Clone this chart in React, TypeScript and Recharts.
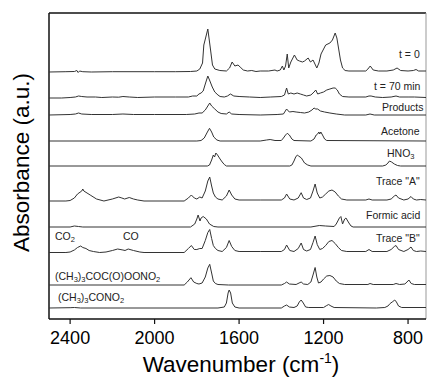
import React from 'react';
import { LineChart, Line, XAxis, YAxis, Customized } from 'recharts';

type Pt = [number, number];

// Wavenumber axis ticks
const xTicks = [2400, 2000, 1600, 1200, 800];

// Spectra: [wavenumber (cm-1), absorbance (a.u.)]
const specT0: Pt[] = [
  [2500, 0], [2420, 0.3], [2380, 0.5], [2368, 1.5], [2362, -0.5], [2355, 1], [2340, 0.3], [2300, 0], [2200, 0.3], [2000, 0.3],
  [1900, 0.3], [1830, 0.5], [1800, 1], [1786, 3], [1773, 9], [1767, 27], [1761, 32], [1748, 43], [1735, 22], [1726, 7],
  [1715, 3], [1691, 1.5], [1660, 1], [1645, 4], [1633, 10], [1620, 6], [1605, 7], [1595, 5], [1580, 2], [1560, 1],
  [1540, 1.5], [1520, 0.5], [1500, 1], [1460, 1], [1430, 2], [1420, 1], [1405, 2], [1395, 6], [1388, 2], [1380, 6],
  [1372, 18], [1365, 4], [1355, 10], [1338, 17], [1325, 12], [1314, 11], [1300, 10], [1290, 11], [1273, 14], [1262, 10],
  [1250, 12], [1243, 9], [1232, 4], [1222, 9], [1212, 18], [1190, 27], [1170, 29], [1158, 32], [1145, 39], [1137, 34],
  [1130, 25], [1120, 12], [1110, 4], [1098, 1.5], [1080, 1], [1000, 1], [990, 3], [979, 6], [965, 2], [940, 1],
  [900, 1], [870, 2], [852, 4], [835, 1.5], [800, 1], [775, 1.5], [762, 2.5], [750, 1], [715, 1],
];

const specT70: Pt[] = [
  [2500, 0], [2440, 0], [2400, 0.5], [2375, 1], [2360, 2], [2345, 1.5], [2320, 1], [2280, 1], [2250, 0.5], [2200, 1],
  [2170, 0.8], [2150, 1.5], [2120, 1], [2080, 0.5], [2000, 1], [1900, 1], [1840, 1], [1820, 2], [1800, 2], [1790, 4],
  [1780, 5], [1770, 7], [1760, 14], [1748, 22], [1740, 18], [1727, 11], [1715, 6], [1700, 3], [1690, 1.5], [1670, 1],
  [1655, 2], [1641, 4], [1625, 2], [1600, 1.5], [1550, 1], [1500, 0.5], [1450, 1], [1400, 1.5], [1385, 3], [1375, 10],
  [1367, 4], [1355, 5], [1340, 4], [1325, 5], [1310, 4], [1295, 3], [1280, 2], [1260, 3], [1245, 6], [1237, 8],
  [1228, 4], [1215, 5], [1200, 6], [1185, 8], [1170, 9], [1155, 10], [1145, 10], [1135, 8], [1125, 4], [1110, 1.5],
  [1080, 1], [1000, 1], [985, 2], [975, 2], [955, 1], [920, 0.5], [880, 1], [857, 2], [840, 1], [800, 1],
  [770, 1], [715, 0.5],
];

const specProducts: Pt[] = [
  [2500, 0], [2400, 0.5], [2375, 1], [2360, 2], [2345, 1], [2300, 0.5], [2200, 0.5], [2150, 1], [2100, 0.5], [2000, 0.5],
  [1850, 0.5], [1810, 1], [1790, 2], [1775, 2], [1760, 5], [1748, 9], [1739, 12], [1730, 9], [1715, 6], [1700, 3],
  [1685, 1.5], [1660, 1], [1647, 3], [1635, 1], [1600, 0.5], [1500, 0], [1420, 0.5], [1390, 1], [1375, 6], [1362, 3],
  [1345, 3.5], [1330, 3], [1310, 2.5], [1290, 2], [1270, 3], [1255, 5], [1245, 7], [1237, 6], [1228, 6], [1215, 4],
  [1195, 3], [1170, 2], [1140, 1], [1100, 0], [1000, 0], [980, 1], [960, 0], [715, 0],
];

const specAcetone: Pt[] = [
  [2500, 0], [1800, 0], [1780, 0.5], [1765, 3], [1750, 9], [1740, 12.7], [1730, 9], [1720, 4], [1705, 1], [1690, 0],
  [1500, 0], [1470, 1], [1453, 1.5], [1430, 0.5], [1400, 0.5], [1390, 3], [1380, 6], [1372, 7.7], [1362, 6], [1350, 2],
  [1340, 0.5], [1260, 0], [1245, 2], [1235, 6], [1228, 7], [1222, 9], [1218, 7], [1213, 9], [1205, 6], [1195, 2],
  [1185, 0.5], [715, 0],
];

const specHNO3: Pt[] = [
  [2500, 0], [1750, 0], [1740, 1], [1730, 6], [1722, 11], [1716, 9], [1710, 13], [1702, 11], [1690, 7], [1680, 4],
  [1670, 1.5], [1660, 0], [1360, 0], [1350, 1], [1340, 5], [1332, 9], [1324, 11], [1318, 10], [1305, 8], [1290, 3],
  [1275, 1], [1260, 0], [920, 0], [905, 1], [895, 3], [888, 5], [878, 4], [865, 2], [850, 0.5], [835, 0], [715, 0],
];

const specTraceA: Pt[] = [
  [2500, 0], [2420, 0], [2400, 0.5], [2380, 3], [2365, 7], [2345, 10], [2340, 12], [2335, 10], [2320, 8], [2305, 6],
  [2275, 2], [2240, 0], [2200, 2], [2170, 4], [2155, 3], [2142, 2], [2120, 3.5], [2100, 2], [2080, 1], [2050, 0],
  [1860, 0], [1840, 3], [1826, 6], [1812, 3], [1800, 2], [1786, 4], [1775, 3], [1760, 10], [1748, 20], [1739, 24],
  [1730, 15], [1722, 8], [1712, 4], [1700, 2], [1680, 1], [1660, 5], [1647, 11], [1635, 6], [1620, 2], [1600, 1],
  [1500, 1], [1400, 1], [1385, 3], [1375, 7], [1360, 2], [1340, 1], [1320, 3], [1306, 8.3], [1295, 3], [1280, 1.5],
  [1262, 3], [1250, 10], [1240, 17], [1230, 8], [1218, 3], [1205, 4], [1190, 7], [1175, 10], [1160, 11], [1145, 9],
  [1130, 5], [1115, 2], [1090, 1], [1000, 1], [985, 2], [970, 1], [900, 1], [880, 2], [865, 5], [857, 6],
  [845, 3], [820, 1], [800, 2], [786, 4.5], [775, 2], [760, 1], [740, 1.5], [715, 1],
];

const specFormic: Pt[] = [
  [2500, 0], [2400, 0], [2380, 1], [2360, 0.5], [2340, 0], [1830, 0], [1810, 3], [1800, 8], [1794, 12], [1785, 6],
  [1780, 9], [1770, 10.5], [1755, 8], [1740, 3], [1720, 0.5], [1700, 0], [1260, 0], [1220, 1.5], [1190, 1], [1150, 0.5],
  [1140, 3], [1125, 9], [1118, 10.5], [1110, 3], [1100, 8], [1094, 9], [1080, 4], [1070, 1], [1060, 0], [715, 0],
];

const specTraceB: Pt[] = [
  [2500, 0], [2420, 0], [2400, 0.5], [2380, 2.5], [2365, 5], [2350, 6.5], [2340, 5], [2325, 4], [2310, 2], [2290, 1],
  [2260, 0], [2230, 0.5], [2200, 2], [2175, 3.5], [2150, 2.5], [2140, 2], [2125, 3.5], [2100, 2], [2070, 0.5], [2050, 0],
  [1860, 0], [1840, 4], [1826, 7], [1812, 3], [1800, 3], [1786, 4], [1775, 4], [1760, 12], [1748, 20], [1739, 23],
  [1730, 14], [1722, 7], [1712, 4], [1700, 2], [1680, 1], [1660, 5], [1647, 12], [1635, 6], [1620, 2], [1600, 1],
  [1500, 1], [1400, 1], [1385, 3], [1375, 7.5], [1360, 2], [1340, 1], [1320, 4], [1306, 9.5], [1295, 3], [1280, 1.5],
  [1262, 3], [1250, 10], [1240, 16.5], [1230, 8], [1218, 3], [1205, 4], [1190, 7], [1175, 11], [1160, 12], [1145, 9],
  [1130, 5], [1115, 2], [1090, 1], [1000, 1], [985, 3], [970, 1], [900, 1], [880, 3], [865, 6], [857, 7],
  [845, 3], [820, 1], [800, 3], [786, 5.5], [775, 2], [760, 1], [740, 1.5], [715, 1],
];

const specPerester: Pt[] = [
  [2500, 0], [1860, 0], [1845, 3], [1828, 7.3], [1815, 3], [1800, 1.5], [1790, 1], [1775, 2], [1760, 8], [1748, 17],
  [1739, 20.7], [1730, 12], [1722, 4], [1712, 1.5], [1700, 0.5], [1650, 0], [1400, 0], [1385, 1.5], [1375, 3], [1362, 1],
  [1330, 0.5], [1316, 2], [1306, 3], [1295, 1], [1275, 0.5], [1260, 3], [1250, 10], [1240, 17.5], [1232, 8], [1224, 2],
  [1212, 3], [1200, 6], [1185, 9], [1170, 9.5], [1155, 8], [1140, 4], [1125, 1.5], [1100, 0.5], [990, 0.5], [980, 1.5],
  [965, 0.5], [870, 0.5], [857, 1.5], [840, 0.5], [815, 1], [805, 3], [796, 5], [785, 1.5], [770, 0.5], [715, 0.5],
];

const specNitrate: Pt[] = [
  [2500, 0], [2400, 0.3], [2380, 0.5], [2350, 0], [1700, 0], [1670, 1], [1660, 5], [1652, 15], [1647, 18], [1640, 15],
  [1632, 5], [1620, 1], [1600, 0], [1400, 0], [1385, 2], [1375, 3], [1362, 1], [1340, 0.5], [1325, 2], [1315, 6],
  [1306, 8], [1296, 5], [1285, 1], [1270, 0.5], [1200, 0.5], [1185, 2.5], [1176, 3.5], [1165, 2], [1150, 0.5], [950, 0],
  [910, 0.5], [895, 2], [885, 4.5], [875, 6], [863, 8], [855, 6], [845, 2], [830, 0.5], [715, 0.5],
];

// Vertical stacking offsets (a.u.) for each spectrum, top to bottom
const stackOffsets = [247, 221, 204, 178, 153, 118, 92, 66.5, 34, 11];
const spectra = [specT0, specT70, specProducts, specAcetone, specHNO3, specTraceA, specFormic, specTraceB, specPerester, specNitrate];

const W = 429;
const H = 377;
const PL = 49, PT = 13, PR = 426, PB = 319;
const FONT = '"Liberation Sans", Arial, Helvetica, sans-serif';

type Part = { t: string; sub?: boolean };
const labels: { parts: Part[]; x: number; y: number }[] = [
  { parts: [{ t: 't = 0' }], x: 399, y: 58 },
  { parts: [{ t: 't = 70 min' }], x: 374, y: 90 },
  { parts: [{ t: 'Products' }], x: 382, y: 111 },
  { parts: [{ t: 'Acetone' }], x: 381, y: 135 },
  { parts: [{ t: 'HNO' }, { t: '3', sub: true }], x: 387, y: 157 },
  { parts: [{ t: 'Trace "A"' }], x: 376, y: 185 },
  { parts: [{ t: 'Formic acid' }], x: 366, y: 219 },
  { parts: [{ t: 'Trace "B"' }], x: 376, y: 242 },
  { parts: [{ t: 'CO' }, { t: '2', sub: true }], x: 55, y: 240 },
  { parts: [{ t: 'CO' }], x: 123, y: 240 },
  { parts: [{ t: '(CH' }, { t: '3', sub: true }, { t: ')' }, { t: '3', sub: true }, { t: 'COC(O)OONO' }, { t: '2', sub: true }], x: 55, y: 280 },
  { parts: [{ t: '(CH' }, { t: '3', sub: true }, { t: ')' }, { t: '3', sub: true }, { t: 'CONO' }, { t: '2', sub: true }], x: 58, y: 301 },
];

function Overlay() {
  return (
    <g>
      <line x1={PL} y1={PT} x2={PR} y2={PT} stroke="#111" strokeWidth={1.5} />
      <line x1={PL} y1={PT} x2={PL} y2={PB} stroke="#111" strokeWidth={1.5} />
      <line x1={PR} y1={PT} x2={PR} y2={PB} stroke="#999" strokeWidth={1} />
      {labels.map((l, i) => (
        <text key={i} x={l.x} y={l.y} fontFamily={FONT} fontSize={10.5} fill="#222">
          {l.parts.map((p, j) => (
            <tspan key={j} fontSize={p.sub ? 7.5 : 10.5} baselineShift={p.sub ? '-2' : undefined} dy={0}>
              {p.t}
            </tspan>
          ))}
        </text>
      ))}
      <text x={241} y={371.5} textAnchor="middle" fontFamily={FONT} fontSize={22.5} fill="#000">
        Wavenumber (cm<tspan fontSize={14} dy={-9}>-1</tspan><tspan dy={9}>)</tspan>
      </text>
      <text transform="translate(28.5,162.5) rotate(-90)" textAnchor="middle" fontFamily={FONT} fontSize={22.5} fill="#000">
        Absorbance (a.u.)
      </text>
    </g>
  );
}

export default function App() {
  return (
    <div style={{ position: 'absolute', left: 0, top: 0, width: W, height: H, background: '#fff' }}>
      <LineChart width={W} height={H} margin={{ top: PT, right: W - PR, left: PL, bottom: 0 }}>
        <XAxis
          dataKey="wn"
          type="number"
          domain={[715, 2500]}
          reversed
          allowDataOverflow
          ticks={xTicks}
          height={H - PB}
          tickSize={5}
          tickMargin={7}
          tick={{ fontSize: 18, fill: '#000', fontFamily: FONT }}
          axisLine={{ stroke: '#111', strokeWidth: 1.5 }}
          tickLine={{ stroke: '#111', strokeWidth: 1.2 }}
        />
        <YAxis hide type="number" domain={[0, PB - PT]} allowDataOverflow />
        {spectra.map((s, i) => (
          <Line
            key={i}
            data={s.map(([wn, v]) => ({ wn, a: v + stackOffsets[i] }))}
            dataKey="a"
            type="linear"
            dot={false}
            stroke="#333"
            strokeWidth={1}
            isAnimationActive={false}
          />
        ))}
        <Customized component={Overlay} />
      </LineChart>
    </div>
  );
}
